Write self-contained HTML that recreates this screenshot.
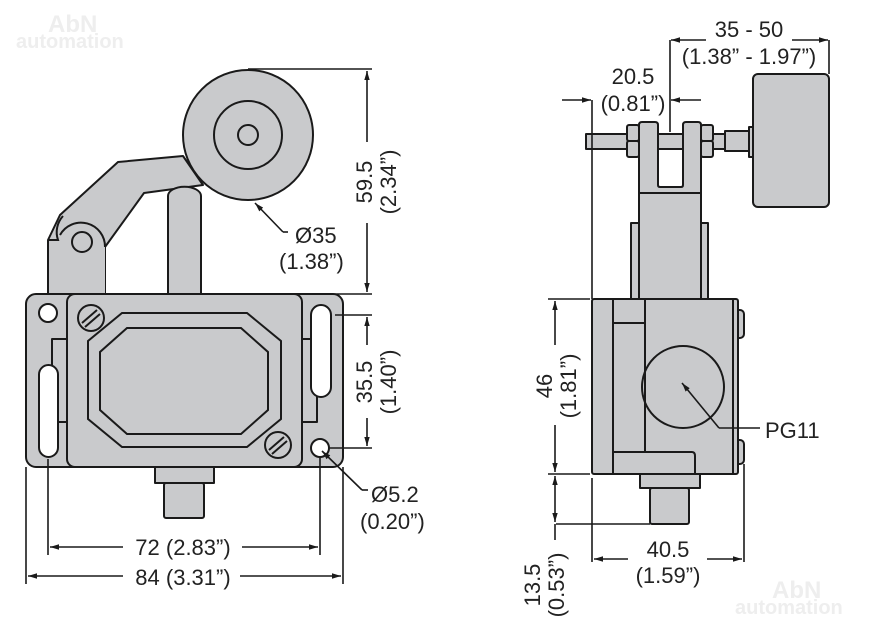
<!DOCTYPE html>
<html><head><meta charset="utf-8"><style>
html,body{margin:0;padding:0;background:#fff}
svg{display:block}
text{font-family:"Liberation Sans Narrow","Liberation Sans",sans-serif;font-size:22px;fill:#222}
.g{fill:#c9cacc;stroke:#1a1a1a;stroke-width:2;stroke-linejoin:round}
.n{fill:none;stroke:#1a1a1a;stroke-width:2}
.w{fill:#fff;stroke:#1a1a1a;stroke-width:2}
.d{fill:none;stroke:#1a1a1a;stroke-width:1.6}
</style></head><body>
<svg width="872" height="625" viewBox="0 0 872 625">
<defs>
<marker id="a" viewBox="0 0 10 10" refX="10" refY="5" markerWidth="9" markerHeight="9" orient="auto-start-reverse" markerUnits="userSpaceOnUse"><path d="M0,2 L10,5 L0,8 z" fill="#1a1a1a"/></marker>
</defs>
<text x="48" y="32" style="font-family:'Liberation Sans',sans-serif;font-weight:bold;font-size:24px;fill:#eeeeee">AbN</text>
<text x="16" y="48" style="font-family:'Liberation Sans',sans-serif;font-weight:bold;font-size:20px;fill:#eeeeee">automation</text>
<text x="772" y="598" style="font-family:'Liberation Sans',sans-serif;font-weight:bold;font-size:24px;fill:#eeeeee">AbN</text>
<text x="735" y="614" style="font-family:'Liberation Sans',sans-serif;font-weight:bold;font-size:20px;fill:#eeeeee">automation</text>

<!-- LEFT VIEW -->
<polygon class="g" points="183,156 118,162 60,215 48,240 48,294 105,294 105,247 144,193 203,185"/>
<path class="g" d="M58,240 A24,24 0 0 1 105,247 V294 H58 Z" style="stroke:none"/>
<path class="n" d="M48,240 L58,240 A24,24 0 0 1 63,216"/>
<path class="n" d="M60,235 A24,24 0 0 1 105,247"/>
<circle class="g" cx="82" cy="242" r="10"/>
<path class="g" d="M168,294 V196 A16,9 0 0 1 201,196 V294 Z"/>
<circle class="g" cx="248" cy="135" r="65"/>
<circle class="n" cx="248" cy="135" r="34"/>
<circle class="n" cx="248" cy="135" r="10"/>
<rect class="g" x="26" y="294" width="317" height="173" rx="10"/>
<rect class="g" x="52" y="339" width="15" height="83"/>
<rect class="g" x="302" y="339" width="15" height="83"/>
<rect class="g" x="67" y="294" width="235" height="173" rx="8"/>
<rect class="w" x="39" y="365" width="19" height="92" rx="9.5"/>
<rect class="w" x="311" y="305" width="20" height="92" rx="10"/>
<circle class="w" cx="48" cy="313" r="9"/>
<circle class="w" cx="320" cy="448" r="9"/>
<polygon class="n" points="122,313 247,313 281,341 281,419 247,447 122,447 88,419 88,341"/>
<polygon class="n" points="127,328 241,328 268,352 268,410 241,434 127,434 100,410 100,352"/>
<circle class="g" cx="91" cy="318" r="13"/><path class="n" d="M82,323 L97,310 M85,327 L100,314"/>
<circle class="g" cx="278" cy="445" r="13"/><path class="n" d="M269,450 L284,437 M272,454 L287,441"/>
<rect class="g" x="155" y="467" width="59" height="16"/>
<rect class="g" x="164" y="483" width="40" height="35" rx="2"/>

<!-- left dims -->
<path class="d" d="M248,69 H372 M210,294 H372"/>
<line class="d" x1="367" y1="142" x2="367" y2="71" marker-end="url(#a)"/>
<line class="d" x1="367" y1="223" x2="367" y2="292" marker-end="url(#a)"/>
<text transform="translate(372,182) rotate(-90)" text-anchor="middle">59.5</text>
<text transform="translate(396,182) rotate(-90)" text-anchor="middle">(2.34”)</text>
<path class="d" d="M335,315 H372 M328,448 H372"/>
<line class="d" x1="367" y1="345" x2="367" y2="317" marker-end="url(#a)"/>
<line class="d" x1="367" y1="418" x2="367" y2="446" marker-end="url(#a)"/>
<text transform="translate(372,382) rotate(-90)" text-anchor="middle">35.5</text>
<text transform="translate(396,382) rotate(-90)" text-anchor="middle">(1.40”)</text>
<path class="d" d="M283,232 H288"/><line class="d" x1="283" y1="232" x2="255" y2="203" marker-end="url(#a)"/>
<text x="295" y="243">Ø35</text><text x="279" y="269">(1.38”)</text>
<path class="d" d="M362,490 H368"/><line class="d" x1="362" y1="490" x2="322" y2="451" marker-end="url(#a)"/>
<text x="371" y="502">Ø5.2</text><text x="360" y="529">(0.20”)</text>
<path class="d" d="M48,459 V555 M320,457 V555 M26,467 V584 M343,467 V584"/>
<line class="d" x1="123" y1="547" x2="50" y2="547" marker-end="url(#a)"/>
<line class="d" x1="242" y1="547" x2="318" y2="547" marker-end="url(#a)"/>
<text x="183" y="555" text-anchor="middle">72 (2.83”)</text>
<line class="d" x1="123" y1="576" x2="28" y2="576" marker-end="url(#a)"/>
<line class="d" x1="240" y1="576" x2="341" y2="576" marker-end="url(#a)"/>
<text x="183" y="585" text-anchor="middle">84 (3.31”)</text>

<!-- RIGHT VIEW -->
<rect class="g" x="631" y="223" width="77" height="76"/>
<path class="g" d="M639,299 V125 Q639,122 642,122 H655 Q658,122 658,125 V185 Q658,187 660,187 H681 Q683,187 683,185 V125 Q683,122 686,122 H698 Q701,122 701,125 V299 Z"/>
<line class="n" x1="639" y1="193" x2="701" y2="193"/>
<rect class="g" x="586" y="134" width="53" height="15"/>
<rect class="g" x="658" y="134" width="25" height="15"/>
<rect class="g" x="701" y="134" width="24" height="15"/>
<rect class="g" x="627" y="125" width="12" height="16" rx="2"/><rect class="g" x="627" y="141" width="12" height="16" rx="2"/>
<rect class="g" x="701" y="125" width="12" height="16" rx="2"/><rect class="g" x="701" y="141" width="12" height="16" rx="2"/>
<rect class="g" x="725" y="131" width="24" height="20"/>
<rect class="g" x="749" y="127" width="5" height="30"/>
<rect class="g" x="753" y="74" width="76" height="133" rx="5"/>
<rect class="g" x="734" y="310" width="10" height="28" rx="4"/>
<rect class="g" x="734" y="440" width="10" height="24" rx="4"/>
<rect class="g" x="592" y="299" width="146" height="175" rx="2"/>
<path class="n" d="M613,299 V474 M733,299 V474 M645,299 V452 M613,323 H645 M613,452 H692 Q695,452 695,456 V474"/>
<circle class="n" cx="683" cy="387" r="41"/>
<rect class="g" x="640" y="474" width="60" height="14"/>
<rect class="g" x="650" y="488" width="39" height="36" rx="2"/>
<path class="d" d="M719,428 H760"/><line class="d" x1="719" y1="428" x2="682" y2="383" marker-end="url(#a)"/>
<text x="765" y="438">PG11</text>

<!-- right dims -->
<path class="d" d="M592,100 V299 M670,40 V132 M829,40 V74"/>
<line class="d" x1="562" y1="100" x2="591" y2="100" marker-end="url(#a)"/>
<line class="d" x1="701" y1="100" x2="671" y2="100" marker-end="url(#a)"/>
<text x="633" y="84" text-anchor="middle">20.5</text>
<text x="633" y="111" text-anchor="middle">(0.81”)</text>
<line class="d" x1="706" y1="40" x2="671" y2="40" marker-end="url(#a)"/>
<line class="d" x1="792" y1="40" x2="828" y2="40" marker-end="url(#a)"/>
<text x="749" y="37" text-anchor="middle">35 - 50</text>
<text x="749" y="64" text-anchor="middle">(1.38” - 1.97”)</text>
<path class="d" d="M548,299 H590 M548,474 H590 M556,524 H650"/>
<line class="d" x1="555" y1="345" x2="555" y2="301" marker-end="url(#a)"/>
<line class="d" x1="555" y1="425" x2="555" y2="472" marker-end="url(#a)"/>
<text transform="translate(552,386) rotate(-90)" text-anchor="middle">46</text>
<text transform="translate(576,386) rotate(-90)" text-anchor="middle">(1.81”)</text>
<line class="d" x1="555" y1="500" x2="555" y2="476" marker-end="url(#a)"/>
<line class="d" x1="555" y1="500" x2="555" y2="522" marker-end="url(#a)"/>
<line class="d" x1="555" y1="524" x2="555" y2="540"/>
<text transform="translate(540,585) rotate(-90)" text-anchor="middle">13.5</text>
<text transform="translate(564,585) rotate(-90)" text-anchor="middle">(0.53”)</text>
<path class="d" d="M592,478 V562 M744,464 V562"/>
<line class="d" x1="628" y1="559" x2="594" y2="559" marker-end="url(#a)"/>
<line class="d" x1="707" y1="559" x2="742" y2="559" marker-end="url(#a)"/>
<text x="668" y="557" text-anchor="middle">40.5</text>
<text x="668" y="583" text-anchor="middle">(1.59”)</text>
</svg>
</body></html>
